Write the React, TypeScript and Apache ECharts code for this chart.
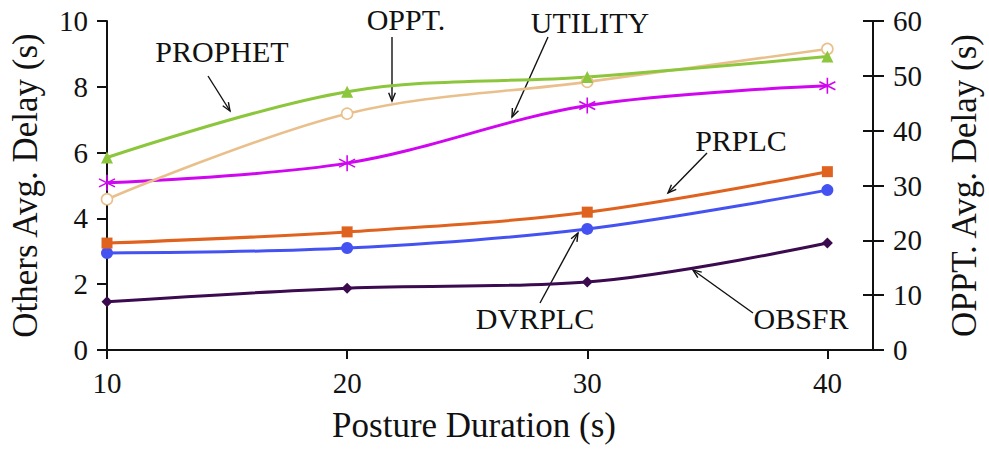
import React, { useEffect, useRef } from "react";
import * as echarts from "echarts";

const durations = [10, 20, 30, 40];
const prophet = [5.85, 7.85, 8.3, 8.92];
const utility = [5.08, 5.68, 7.43, 8.03];
const prplc = [3.25, 3.59, 4.19, 5.42];
const dvrplc = [2.95, 3.1, 3.68, 4.86];
const obsfr = [1.47, 1.88, 2.07, 3.25];
const oppt = [27.5, 43.1, 48.9, 54.9];

const FONT = "Liberation Serif";

const pairs = (arr: number[]) => durations.map((d, i) => [d, arr[i]]);

function arrow(x1: number, y1: number, x2: number, y2: number) {
  const ang = Math.atan2(y2 - y1, x2 - x1);
  const L = 9;
  const a = 0.38;
  const p1 = [x2 - L * Math.cos(ang - a), y2 - L * Math.sin(ang - a)];
  const p2 = [x2 - L * Math.cos(ang + a), y2 - L * Math.sin(ang + a)];
  return [
    { type: "line", shape: { x1, y1, x2, y2 }, style: { stroke: "#111", lineWidth: 1.4 } },
    { type: "polyline", shape: { points: [p1, [x2, y2], p2] }, style: { stroke: "#111", lineWidth: 1.4, fill: null } },
  ];
}

function label(text: string, x: number, y: number, size = 30) {
  return {
    type: "text",
    x,
    y,
    style: {
      text,
      fontFamily: FONT,
      fontSize: size,
      fill: "#111",
      textAlign: "center",
      textVerticalAlign: "middle",
    },
  };
}

const asterisk = "path://M5 0 L5 10 M0.7 2.5 L9.3 7.5 M0.7 7.5 L9.3 2.5";

export default function App() {
  const ref = useRef<HTMLDivElement>(null);
  useEffect(() => {
    if (!ref.current) return;
    const chart = echarts.init(ref.current, null, { renderer: "svg" });
    const axisText = { fontFamily: FONT, fontSize: 29, color: "#111" };
    const mk = (name: string, data: number[], color: string, symbol: string, size: number, extra: any = {}) => ({
      name,
      type: "line",
      data: pairs(data),
      smooth: 0.35,
      symbol,
      symbolSize: size,
      color,
      lineStyle: { color, width: 3 },
      itemStyle: { color },
      z: 3,
      ...extra,
    });
    chart.setOption({
      animation: false,
      grid: { left: 107, right: 116, top: 21, bottom: 101, outerBoundsMode: "none", containLabel: false },
      xAxis: {
        type: "value",
        min: 10,
        max: 41.9,
        interval: 10,
        axisLine: { lineStyle: { color: "#111", width: 2 } },
        axisTick: { show: true, length: 9, lineStyle: { color: "#111", width: 2 } },
        axisLabel: { ...axisText, margin: 18, showMaxLabel: false },
        splitLine: { show: false },
      },
      yAxis: [
        {
          type: "value",
          min: 0,
          max: 10,
          interval: 2,
          position: "left",
          name: "Others Avg. Delay (s)",
          nameLocation: "middle",
          nameGap: 64,
          nameTextStyle: { fontFamily: FONT, fontSize: 35, color: "#111" },
          axisLine: { show: true, lineStyle: { color: "#111", width: 2 } },
          axisTick: { show: true, length: 10, lineStyle: { color: "#111", width: 2 } },
          axisLabel: { ...axisText, margin: 19 },
          splitLine: { show: false },
        },
        {
          type: "value",
          min: 0,
          max: 60,
          interval: 10,
          position: "right",
          name: "OPPT. Avg. Delay (s)",
          nameLocation: "middle",
          nameGap: 74,
          nameRotate: 90,
          nameTextStyle: { fontFamily: FONT, fontSize: 35, color: "#111" },
          axisLine: { show: true, lineStyle: { color: "#111", width: 2 } },
          axisTick: { show: true, length: 11, lineStyle: { color: "#111", width: 2 } },
          axisLabel: { ...axisText, margin: 20 },
          splitLine: { show: false },
        },
        {
          type: "value",
          min: 0,
          max: 60,
          interval: 10,
          position: "right",
          axisLine: { show: false },
          axisTick: { show: true, inside: true, length: 10, lineStyle: { color: "#111", width: 2 } },
          axisLabel: { show: false },
          splitLine: { show: false },
        },
      ],
      series: [
        mk("OBSFR", obsfr, "#3b0a4f", "diamond", 11),
        mk("DVRPLC", dvrplc, "#4552f2", "circle", 12),
        mk("PRPLC", prplc, "#e0621f", "rect", 11),
        mk("UTILITY", utility, "#cf06ef", asterisk, 16, {
          itemStyle: { color: "none", borderColor: "#cf06ef", borderWidth: 1.6 },
        }),
        mk("OPPT.", oppt, "#e9c08c", "circle", 11, {
          yAxisIndex: 1,
          lineStyle: { color: "#e9c08c", width: 2.6 },
          itemStyle: { color: "#fff", borderColor: "#e9c08c", borderWidth: 1.6 },
        }),
        mk("PROPHET", prophet, "#8cc63c", "triangle", 12),
      ],
      graphic: [
        label("PROPHET", 222, 51),
        ...arrow(208, 76, 230, 111),
        label("OPPT.", 406, 19),
        ...arrow(392, 37, 392, 101),
        label("UTILITY", 590, 22),
        ...arrow(548, 37, 512, 117),
        label("PRPLC", 741, 140),
        ...arrow(707, 153, 668, 193),
        label("DVRPLC", 535, 318),
        ...arrow(540, 303, 578, 233),
        label("OBSFR", 801, 318),
        ...arrow(753, 313, 693, 270),
        label("Posture Duration (s)", 474, 425, 35),
      ],
    });
    return () => chart.dispose();
  }, []);
  return <div ref={ref} style={{ width: 989, height: 451, position: "absolute", left: 0, top: 0, background: "#fff" }} />;
}
